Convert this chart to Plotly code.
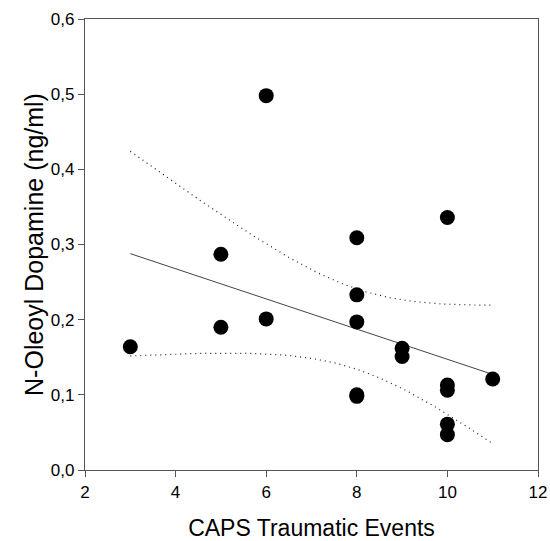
import numpy as np
import plotly.graph_objects as go

# Data
caps_events = [3, 5, 5, 6, 6, 8, 8, 8, 8, 8, 9, 9, 10, 10, 10, 10, 10, 11]
oleoyl_dopamine = [0.164, 0.287, 0.190, 0.498, 0.201, 0.309, 0.233, 0.197, 0.100, 0.098,
                   0.162, 0.151, 0.336, 0.113, 0.106, 0.061, 0.047, 0.121]
x_ticks = [2, 4, 6, 8, 10, 12]
y_ticks = [0.0, 0.1, 0.2, 0.3, 0.4, 0.5, 0.6]

# Linear regression with 95% confidence band of the mean
x = np.array(caps_events, dtype=float)
y = np.array(oleoyl_dopamine, dtype=float)
n = len(x)
slope, intercept = np.polyfit(x, y, 1)
resid = y - (slope * x + intercept)
s = np.sqrt(np.sum(resid ** 2) / (n - 2))
sxx = np.sum((x - x.mean()) ** 2)
t_val = 2.1199  # t(0.975, 16)
xf = np.linspace(x.min(), x.max(), 100)
yf = slope * xf + intercept
half = t_val * s * np.sqrt(1 / n + (xf - x.mean()) ** 2 / sxx)

dot_style = dict(color="#222222", width=1.2, dash="1px,4px")
fig = go.Figure()
fig.add_trace(go.Scatter(x=xf, y=yf + half, mode="lines", line=dot_style, hoverinfo="skip"))
fig.add_trace(go.Scatter(x=xf, y=yf - half, mode="lines", line=dot_style, hoverinfo="skip"))
fig.add_trace(go.Scatter(x=xf, y=yf, mode="lines",
                         line=dict(color="#444444", width=1), hoverinfo="skip"))
fig.add_trace(go.Scatter(x=caps_events, y=oleoyl_dopamine, mode="markers",
                         marker=dict(color="black", size=15)))

axis_common = dict(showline=True, linecolor="#555555", linewidth=1.3, mirror=True,
                   ticks="outside", ticklen=6, tickcolor="#555555", showgrid=False,
                   zeroline=False, automargin=False, tickfont=dict(size=17, color="black"))

fig.update_layout(
    width=550, height=541,
    margin=dict(l=85, r=12, t=19, b=71),
    plot_bgcolor="white", paper_bgcolor="white",
    showlegend=False,
    separators=",.",
    font=dict(family="Liberation Sans, Arial, sans-serif", color="black"),
    xaxis=dict(range=[2, 12], tickvals=x_ticks,
               title=dict(text="CAPS Traumatic Events", font=dict(size=23), standoff=26),
               **axis_common),
    yaxis=dict(range=[0, 0.6], tickvals=y_ticks, tickformat=".1f",
               title=dict(text="N-Oleoyl Dopamine (ng/ml)", font=dict(size=25), standoff=0),
               **axis_common),
)

fig.write_html("out.html", config={"displayModeBar": False},
               post_script="document.body.style.margin='0';")
